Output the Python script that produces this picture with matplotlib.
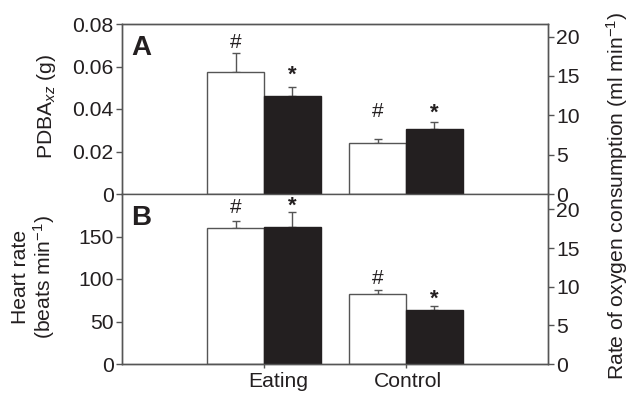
import numpy as np
import matplotlib.pyplot as plt
from matplotlib.transforms import ScaledTranslation

plt.rcParams['font.family'] = ['Liberation Sans', 'DejaVu Sans']
plt.rcParams['mathtext.fontset'] = 'custom'
plt.rcParams['mathtext.rm'] = 'Liberation Sans'
plt.rcParams['mathtext.it'] = 'Liberation Sans:italic'

# data
categories = ["Eating", "Control"]
pdba = [0.0574, 0.0239]
pdba_err = [0.0088, 0.0020]
vo2_a = [12.5, 8.3]
vo2_a_err = [1.08, 0.86]
heart_rate = [159.6, 82.8]
heart_rate_err = [9.0, 4.7]
vo2_b = [17.7, 6.97]
vo2_b_err = [1.95, 0.48]

INK = '#231f20'
EDGE = '#555555'
FS = 15.2
W = 0.4

fig = plt.figure(figsize=(6.31, 3.94), dpi=100)
L, R = 122 / 631, 426 / 631
H = 170 / 394
ax_a = fig.add_axes([L, 1 - 194 / 394, R, H])
ax_b = fig.add_axes([L, 1 - 364 / 394, R, H])
x = np.arange(len(categories))


def style(ax):
    for s in ax.spines.values():
        s.set_color(EDGE)
        s.set_linewidth(1.0)
    ax.tick_params(axis='y', direction='out', length=4, width=1, color=EDGE,
                   labelsize=FS, labelcolor=INK, pad=2)


def panel(ax, white, white_err, black, black_err, ylim_l, ticks_l, ticklabels_l, ylim_r,
          letter, hash_off, star_off):
    axr = ax.twinx()
    ax.bar(x - W / 2, white, W, color='white', edgecolor=EDGE, linewidth=1.0, zorder=2)
    ax.errorbar(x - W / 2, white, yerr=[np.zeros(2), white_err], fmt='none',
                ecolor=EDGE, elinewidth=1.0, capsize=3, capthick=1.0, zorder=1)
    axr.bar(x + W / 2, black, W, color=INK, edgecolor=INK, linewidth=1.0, zorder=2)
    axr.errorbar(x + W / 2, black, yerr=[np.zeros(2), black_err], fmt='none',
                 ecolor=EDGE, elinewidth=1.0, capsize=3, capthick=1.0, zorder=1)
    for i in range(len(x)):
        ax.annotate('#', (x[i] - W / 2, white[i] + white_err[i]), xytext=(0, hash_off[i]),
                    textcoords='offset points', ha='center', va='bottom', fontsize=15, color=INK)
        axr.annotate('*', (x[i] + W / 2, black[i] + black_err[i]), xytext=(0, star_off[i]),
                     textcoords='offset points', ha='center', va='bottom', fontsize=16,
                     fontweight='bold', color=INK)
    ax.set_xlim(-1, 2)
    ax.set_ylim(*ylim_l)
    ax.set_yticks(ticks_l)
    ax.set_yticklabels(ticklabels_l)
    axr.set_ylim(*ylim_r)
    axr.set_yticks([0, 5, 10, 15, 20])
    style(ax)
    style(axr)
    ax.text(0.022, 0.86, letter, transform=ax.transAxes, fontsize=20, fontweight='bold',
            color=INK, va='center', ha='left')
    return axr


axr_a = panel(ax_a, pdba, pdba_err, vo2_a, vo2_a_err, (0, 0.08),
              [0, 0.02, 0.04, 0.06, 0.08], ['0', '0.02', '0.04', '0.06', '0.08'], (0, 21.6), 'A',
              hash_off=[0.6, 13], star_off=[1, -1.2])
axr_b = panel(ax_b, heart_rate, heart_rate_err, vo2_b, vo2_b_err, (0, 200),
              [0, 50, 100, 150], ['0', '50', '100', '150'], (0, 22), 'B',
              hash_off=[2.3, 1.3], star_off=[-3.3, -2.6])

ax_a.set_xticks([])
axr_a.set_xticks([])
ax_b.set_xticks(x)
ax_b.set_xticklabels(categories)
ax_b.tick_params(axis='x', direction='out', length=3, width=1, color=EDGE,
                 labelsize=FS, labelcolor=INK, pad=3)
# the category names sit a little right of their ticks in the original
for lab, dx in zip(ax_b.get_xticklabels(), [14, 2]):
    lab.set_transform(lab.get_transform() + ScaledTranslation(dx / 100, 0, fig.dpi_scale_trans))
ax_b.spines['top'].set_visible(False)
axr_b.spines['top'].set_visible(False)

fig.text(47 / 631, 1 - 106 / 394, r'PDBA$_{xz}$ (g)', rotation=90, ha='center', va='center',
         fontsize=FS, color=INK)
fig.text(34 / 631, 1 - 277 / 394, 'Heart rate\n(beats min$^{-1}$)', rotation=90, ha='center',
         va='center', fontsize=FS, color=INK, linespacing=1.1)
fig.text(617 / 631, 1 - 196 / 394, 'Rate of oxygen consumption (ml min$^{-1}$)', rotation=90,
         ha='center', va='center', fontsize=FS, color=INK)

fig.savefig('out.png', dpi=100)
